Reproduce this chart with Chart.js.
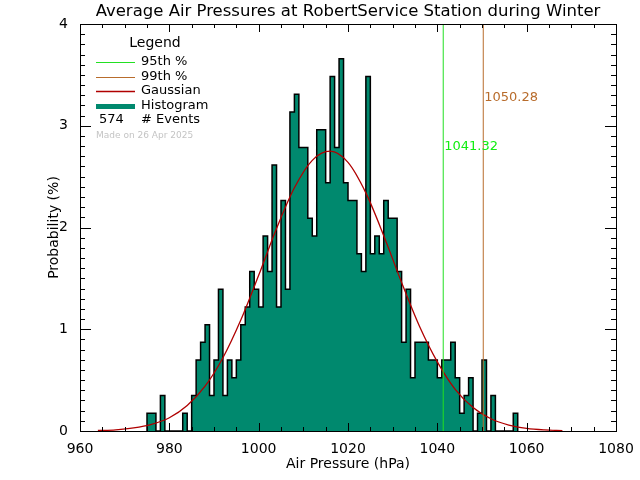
<!DOCTYPE html>
<html>
<head>
<meta charset="utf-8">
<script src="https://cdn.jsdelivr.net/npm/chart.js@4.4.1/dist/chart.umd.min.js"></script>
<style>
  html, body { margin: 0; padding: 0; background: #fff; }
</style>
</head>
<body>
<canvas id="pressureChart" width="640" height="480"></canvas>
<script>
// histogram: lower edge of each 1 hPa bin and number of events in it
const binEdges = [
  975, 976, 977, 978, 979, 980, 981, 982, 983, 984,
  985, 986, 987, 988, 989, 990, 991, 992, 993, 994,
  995, 996, 997, 998, 999, 1000, 1001, 1002, 1003, 1004,
  1005, 1006, 1007, 1008, 1009, 1010, 1011, 1012, 1013, 1014,
  1015, 1016, 1017, 1018, 1019, 1020, 1021, 1022, 1023, 1024,
  1025, 1026, 1027, 1028, 1029, 1030, 1031, 1032, 1033, 1034,
  1035, 1036, 1037, 1038, 1039, 1040, 1041, 1042, 1043, 1044,
  1045, 1046, 1047, 1048, 1049, 1050, 1051, 1052, 1053, 1054,
  1055, 1056, 1057, 1058
];
const eventCounts = [
  1, 1, 0, 2, 0, 0, 0, 0, 1, 0,
  2, 4, 5, 6, 2, 4, 8, 2, 4, 3,
  4, 6, 7, 9, 8, 7, 11, 9, 15, 7,
  13, 8, 18, 19, 16, 16, 12, 11, 17, 17,
  14, 20, 16, 21, 14, 13, 13, 10, 9, 20,
  10, 11, 10, 13, 12, 12, 9, 5, 8, 3,
  5, 5, 5, 4, 4, 3, 4, 4, 5, 3,
  1, 2, 3, 0, 1, 4, 0, 2, 0, 0,
  0, 0, 1
];
const totalEvents = 574;

// fitted gaussian (%)
const gaussX = [964, 968, 972, 976, 980, 984, 988, 992, 996, 1000, 1004, 1008, 1012,
  1016, 1020, 1024, 1028, 1032, 1036, 1040, 1044, 1048, 1052, 1056, 1060, 1064, 1068];
const gaussY = [0.005, 0.012, 0.03, 0.065, 0.13, 0.25, 0.44, 0.72, 1.09, 1.53, 1.99, 2.39, 2.66,
  2.75, 2.64, 2.34, 1.92, 1.46, 1.03, 0.68, 0.41, 0.23, 0.12, 0.058, 0.026, 0.011, 0.004];

const p95 = 1041.32;
const p99 = 1050.28;

const xTicks = [960, 980, 1000, 1020, 1040, 1060, 1080];
const yTicks = [0, 1, 2, 3, 4];

const teal = '#00896e';
const green = '#22e022';
const brown = '#b86c2c';
const darkRed = '#b00000';
const font = '"DejaVu Sans", sans-serif';

// stepped outline points for the histogram (each point holds its bin height to the next edge)
const histPoints = [{ x: binEdges[0], y: 0 }];
for (let i = 0; i < eventCounts.length; i++) {
  histPoints.push({ x: binEdges[i], y: eventCounts[i] / totalEvents * 100 });
}
histPoints.push({ x: binEdges[binEdges.length - 1], y: 0 });

const gaussPoints = gaussX.map((x, i) => ({ x: x, y: gaussY[i] }));

// ticks inside the frame, on all four sides, plus labels and legend
const idlFrame = {
  id: 'idlFrame',
  afterDatasetsDraw(chart) {
    const { ctx, chartArea: a, scales: { x, y } } = chart;
    ctx.save();
    ctx.strokeStyle = '#000';
    ctx.lineWidth = 1;
    ctx.beginPath();
    for (let v = x.min; v <= x.max; v += 5) {
      const px = Math.round(x.getPixelForValue(v)) + 0.5;
      const len = v % 20 === 0 ? 8 : 4;
      ctx.moveTo(px, a.bottom); ctx.lineTo(px, a.bottom - len);
      ctx.moveTo(px, a.top); ctx.lineTo(px, a.top + len);
    }
    for (let i = 0; i <= 40; i++) {
      const py = Math.round(y.getPixelForValue(i / 10)) + 0.5;
      const len = i % 10 === 0 ? 11 : 5;
      ctx.moveTo(a.left, py); ctx.lineTo(a.left + len, py);
      ctx.moveTo(a.right, py); ctx.lineTo(a.right - len, py);
    }
    ctx.stroke();
    ctx.strokeRect(Math.round(a.left) + 0.5, Math.round(a.top) + 0.5,
      Math.round(a.right - a.left), Math.round(a.bottom - a.top));
    ctx.restore();
  },
  afterDraw(chart) {
    const { ctx, chartArea: a, scales: { x, y } } = chart;
    ctx.save();
    // title
    ctx.fillStyle = '#000';
    ctx.font = '16.5px ' + font;
    ctx.textAlign = 'center';
    ctx.textBaseline = 'middle';
    ctx.fillText('Average Air Pressures at RobertService Station during Winter', (a.left + a.right) / 2, 12);

    // percentile values
    ctx.textAlign = 'left';
    ctx.font = '13px ' + font;
    ctx.fillStyle = brown;
    ctx.fillText(p99.toFixed(2), x.getPixelForValue(p99) + 1, y.getPixelForValue(3.28));
    ctx.fillStyle = '#11ee11';
    ctx.fillText(p95.toFixed(2), x.getPixelForValue(p95) + 1, y.getPixelForValue(2.79));

    // legend
    const lx = a.left + 16;
    const tx = a.left + 61;
    ctx.fillStyle = '#000';
    ctx.font = '14px ' + font;
    ctx.textAlign = 'center';
    ctx.fillText('Legend', a.left + 75, a.top + 19);
    ctx.textAlign = 'left';
    ctx.font = '13px ' + font;
    const rows = [
      { label: '95th %', color: green, width: 1, dy: 38 },
      { label: '99th %', color: brown, width: 1, dy: 53 },
      { label: 'Gaussian', color: darkRed, width: 1.5, dy: 67 },
      { label: 'Histogram', color: teal, width: 5, dy: 82 }
    ];
    rows.forEach(r => {
      ctx.strokeStyle = r.color;
      ctx.lineWidth = r.width;
      ctx.beginPath();
      ctx.moveTo(lx, a.top + r.dy + 0.5);
      ctx.lineTo(lx + 39, a.top + r.dy + 0.5);
      ctx.stroke();
      ctx.fillStyle = '#000';
      ctx.fillText(r.label, tx, a.top + r.dy);
    });
    ctx.fillText(String(totalEvents), lx + 3, a.top + 96);
    ctx.fillText('# Events', tx, a.top + 96);
    ctx.fillStyle = '#c4c4c4';
    ctx.font = '9px ' + font;
    ctx.fillText('Made on 26 Apr 2025', lx, a.top + 112);
    ctx.restore();
  }
};

const chart = new Chart(document.getElementById('pressureChart').getContext('2d'), {
  type: 'line',
  data: {
    datasets: [
      {
        label: '95th %',
        data: [{ x: p95, y: 0 }, { x: p95, y: 4 }],
        borderColor: green,
        borderWidth: 1,
        pointRadius: 0,
        fill: false
      },
      {
        label: '99th %',
        data: [{ x: p99, y: 0 }, { x: p99, y: 4 }],
        borderColor: brown,
        borderWidth: 1,
        pointRadius: 0,
        fill: false
      },
      {
        label: 'Gaussian',
        data: gaussPoints,
        borderColor: darkRed,
        borderWidth: 1.3,
        pointRadius: 0,
        cubicInterpolationMode: 'monotone',
        fill: false
      },
      {
        label: 'Histogram',
        data: histPoints,
        stepped: 'before',
        borderColor: '#000',
        borderWidth: 1.5,
        backgroundColor: teal,
        pointRadius: 0,
        fill: 'origin'
      }
    ]
  },
  options: {
    responsive: false,
    animation: false,
    layout: { padding: { top: 24, right: 24, left: 0, bottom: 0 } },
    plugins: {
      legend: { display: false },
      title: { display: false },
      tooltip: { enabled: false }
    },
    scales: {
      x: {
        type: 'linear',
        min: 960,
        max: 1080,
        afterBuildTicks: s => { s.ticks = xTicks.map(v => ({ value: v })); },
        afterFit: s => { s.height = 49; },
        grid: { display: false },
        border: { display: false },
        ticks: {
          color: '#000', padding: 2, maxRotation: 0,
          font: { family: font, size: 14 },
          callback: v => String(v)
        },
        title: {
          display: true,
          text: 'Air Pressure (hPa)',
          color: '#000',
          font: { family: font, size: 14 },
          padding: { top: 0, bottom: 7 }
        }
      },
      y: {
        min: 0,
        max: 4,
        afterBuildTicks: s => { s.ticks = yTicks.map(v => ({ value: v })); },
        afterFit: s => { s.width = 80; },
        grid: { display: false },
        border: { display: false },
        ticks: { color: '#000', padding: 4, font: { family: font, size: 14 } },
        title: {
          display: true,
          text: 'Probability (%)',
          color: '#000',
          font: { family: font, size: 14 },
          padding: { top: 46, bottom: 0 }
        }
      }
    }
  },
  plugins: [idlFrame]
});
</script>
</body>
</html>
